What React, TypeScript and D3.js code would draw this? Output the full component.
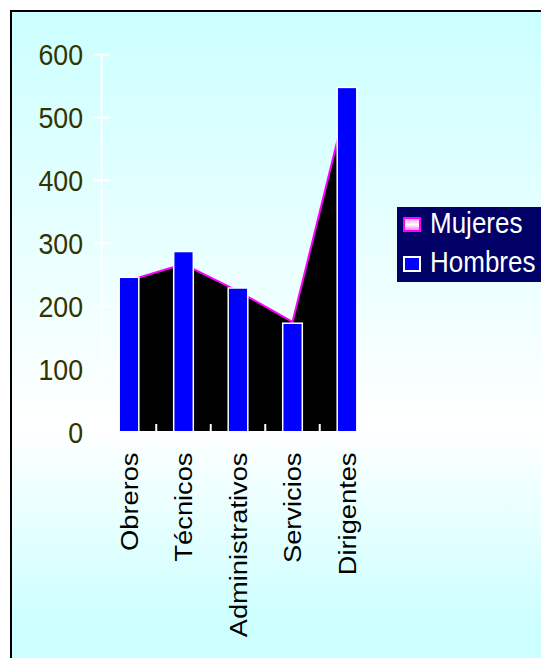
import React from "react";
import * as d3 from "d3";

const categories = ["Obreros", "Técnicos", "Administrativos", "Servicios", "Dirigentes"];
const hombres = [246, 287, 229, 173, 548];
const mujeres = [241, 267, 224, 175, 525];
const yTicks = [0, 100, 200, 300, 400, 500, 600];
const seriesNames = ["Mujeres", "Hombres"];

const W = 541;
const H = 658;
const FONT = "'Liberation Sans', Arial, Helvetica, sans-serif";
const SY = 1.1;

export default function App() {
  const x = d3.scaleBand<string>().domain(categories).range([101.75, 374.25]).padding(0);
  const y = d3.scaleLinear().domain([0, 600]).range([432, 54.7]);
  const bw = x.bandwidth();
  const barW = bw * 0.36;
  const cx = (c: string) => (x(c) as number) + bw / 2;

  const rows = categories.map((c, i) => ({ c, m: mujeres[i], h: hombres[i] }));
  const area = d3
    .area<{ c: string; m: number }>()
    .x((d) => cx(d.c))
    .y0(y(0))
    .y1((d) => y(d.m));
  const line = d3
    .line<{ c: string; m: number }>()
    .x((d) => cx(d.c))
    .y((d) => y(d.m));

  const boundaries = [x.range()[0], ...categories.map((c) => (x(c) as number) + bw)];

  return (
    <svg
      width={W}
      height={H}
      style={{ position: "absolute", left: 0, top: 0, display: "block" }}
      fontFamily={FONT}
    >
      <defs>
        <linearGradient id="bg" gradientUnits="userSpaceOnUse" x1="0" y1="11" x2="0" y2="660">
          <stop offset="0" stopColor="#ccffff" />
          <stop offset="0.64" stopColor="#ffffff" />
          <stop offset="0.95" stopColor="#ccffff" />
          <stop offset="1" stopColor="#ccffff" />
        </linearGradient>
        <linearGradient id="sw" x1="0" y1="0" x2="0" y2="1">
          <stop offset="0" stopColor="#ff88ff" />
          <stop offset="0.5" stopColor="#ffffff" />
          <stop offset="1" stopColor="#ff66ff" />
        </linearGradient>
      </defs>
      <rect x={0} y={0} width={W} height={H} fill="#ffffff" />
      <rect x={11} y={11} width={W + 20} height={H + 20} fill="url(#bg)" stroke="#000" strokeWidth={2} />

      {/* y axis */}
      <line x1={101.7} x2={101.7} y1={y(600)} y2={440} stroke="#fff" strokeWidth={2} />
      {yTicks.map((t) => (
        <g key={t}>
          <line x1={94} x2={110.5} y1={y(t)} y2={y(t)} stroke="#fff" strokeWidth={2} />
          <g transform={`translate(83,${y(t)})`}>
            <text
              transform={`scale(1,${SY})`}
              textAnchor="end"
              dy="0.36em"
              fontSize={26.7}
              fill="#333300"
            >
              {t}
            </text>
          </g>
        </g>
      ))}

      {/* area (Mujeres) */}
      <path d={area(rows) as string} fill="#000" />
      <path d={line(rows) as string} fill="none" stroke="#ff00ff" strokeWidth={2} />

      {/* bars (Hombres) */}
      {rows.map((d) => (
        <rect
          key={d.c}
          x={cx(d.c) - barW / 2}
          y={y(d.h)}
          width={barW}
          height={y(0) - y(d.h)}
          fill="#0000ff"
          stroke="#fff"
          strokeWidth={1.5}
        />
      ))}

      {/* x axis */}
      <line x1={101} x2={374.5} y1={y(0)} y2={y(0)} stroke="#fff" strokeWidth={2} />
      {boundaries.map((b, i) => (
        <line key={i} x1={b} x2={b} y1={424} y2={440} stroke="#fff" strokeWidth={2} />
      ))}
      {categories.map((c) => (
        <g key={c} transform={`translate(${cx(c) + 8.5},452.5) rotate(-90)`}>
          <text transform="scale(1.16,1)" textAnchor="end" fontSize={23.5} fill="#000">
            {c}
          </text>
        </g>
      ))}

      {/* legend */}
      <rect x={397} y={207} width={160} height={75} fill="#000066" />
      <rect x={404} y={218} width={16} height={13} fill="url(#sw)" stroke="#ff00ff" strokeWidth={2} />
      <rect x={404} y={257} width={16} height={14} fill="#0000ff" stroke="#fff" strokeWidth={2} />
      {seriesNames.map((s, i) => (
        <g key={s} transform={`translate(430,${233 + i * 39})`}>
          <text transform={`scale(1,${SY})`} fontSize={26} fill="#fff">
            {s}
          </text>
        </g>
      ))}
    </svg>
  );
}
